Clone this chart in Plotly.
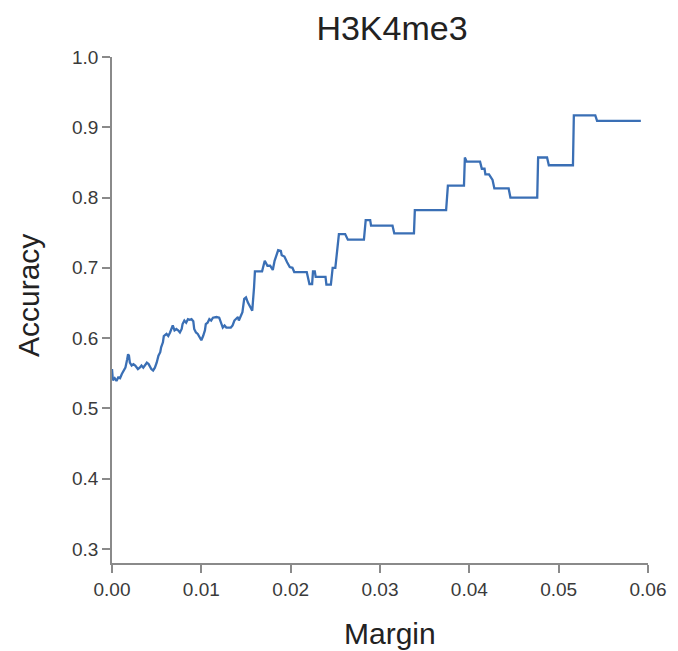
import plotly.graph_objects as go

# Accuracy as a function of the classification margin (H3K4me3)
margin = [
    0.0000, 0.0001, 0.0003, 0.0005, 0.0007, 0.0009, 0.0011, 0.0013, 0.0015, 0.0017,
    0.0018, 0.0019, 0.0020, 0.0022, 0.0024, 0.0026, 0.0028, 0.0029, 0.0031, 0.0033,
    0.0035, 0.0037, 0.0039, 0.0041, 0.0042, 0.0044, 0.0046, 0.0048, 0.0050, 0.0052,
    0.0054, 0.0055, 0.0057, 0.0058, 0.0061, 0.0063, 0.0065, 0.0067, 0.0068, 0.0070,
    0.0072, 0.0074, 0.0076, 0.0078, 0.0079, 0.0081, 0.0083, 0.0085, 0.0087, 0.0089,
    0.0091, 0.0092, 0.0094, 0.0096, 0.0098, 0.0100, 0.0102, 0.0104, 0.0105, 0.0107,
    0.0109, 0.0111, 0.0113, 0.0117, 0.0120, 0.0122, 0.0124, 0.0126, 0.0128, 0.0133,
    0.0135, 0.0137, 0.0139, 0.0141, 0.0142, 0.0144, 0.0146, 0.0148, 0.0150, 0.0152,
    0.0154, 0.0155, 0.0157, 0.0159, 0.0160, 0.0168, 0.0171, 0.0174, 0.0177, 0.0180,
    0.0182, 0.0186, 0.0189, 0.0190, 0.0193, 0.0196, 0.0199, 0.0202, 0.0204, 0.0218,
    0.0221, 0.0224, 0.0225, 0.0227, 0.0228, 0.0239, 0.0240, 0.0245, 0.0247, 0.0250,
    0.0254, 0.0261, 0.0264, 0.0282, 0.0284, 0.0289, 0.0290, 0.0314, 0.0316, 0.0338,
    0.0339, 0.0374, 0.0376, 0.0394, 0.0395, 0.0397, 0.0412, 0.0414, 0.0417, 0.0418,
    0.0422, 0.0426, 0.0428, 0.0444, 0.0446, 0.0476, 0.0477, 0.0487, 0.0489, 0.0516,
    0.0517, 0.0541, 0.0543, 0.0592,
]
accuracy = [
    0.556, 0.540, 0.543, 0.539, 0.544, 0.543, 0.549, 0.553, 0.558, 0.570,
    0.577, 0.575, 0.565, 0.561, 0.563, 0.561, 0.558, 0.556, 0.558, 0.561,
    0.558, 0.561, 0.565, 0.563, 0.561, 0.556, 0.554, 0.558, 0.565, 0.575,
    0.580, 0.587, 0.594, 0.603, 0.606, 0.603, 0.608, 0.615, 0.618, 0.611,
    0.613, 0.611, 0.608, 0.613, 0.620, 0.625, 0.622, 0.627, 0.626, 0.627,
    0.624, 0.613, 0.608, 0.606, 0.601, 0.597, 0.603, 0.611, 0.620, 0.622,
    0.627, 0.625, 0.629, 0.630, 0.629, 0.622, 0.615, 0.618, 0.615, 0.615,
    0.618, 0.625, 0.627, 0.630, 0.625, 0.632, 0.637, 0.656, 0.658, 0.651,
    0.646, 0.644, 0.639, 0.672, 0.695, 0.695, 0.710, 0.703, 0.703, 0.697,
    0.710, 0.725, 0.724, 0.718, 0.716, 0.708, 0.701, 0.700, 0.694, 0.694,
    0.677, 0.677, 0.695, 0.695, 0.687, 0.687, 0.676, 0.676, 0.700, 0.700,
    0.748, 0.748, 0.740, 0.740, 0.768, 0.768, 0.760, 0.760, 0.749, 0.749,
    0.782, 0.782, 0.817, 0.817, 0.857, 0.851, 0.851, 0.841, 0.841, 0.833,
    0.833, 0.825, 0.813, 0.813, 0.800, 0.800, 0.857, 0.857, 0.846, 0.846,
    0.917, 0.917, 0.909, 0.909,
]

x_ticks = [0.00, 0.01, 0.02, 0.03, 0.04, 0.05, 0.06]
x_tick_text = ["0.00", "0.01", "0.02", "0.03", "0.04", "0.05", "0.06"]
y_ticks = [0.3, 0.4, 0.5, 0.6, 0.7, 0.8, 0.9, 1.0]
y_tick_text = ["0.3", "0.4", "0.5", "0.6", "0.7", "0.8", "0.9", "1.0"]

FONT = "Liberation Sans, Arial, sans-serif"
AXIS_GRAY = "#8a8a8a"
TEXT = "#3a3a3a"

fig = go.Figure()
fig.add_trace(go.Scatter(
    x=margin, y=accuracy, mode="lines",
    line=dict(color="#3a6fb5", width=2.3),
    showlegend=False, hoverinfo="x+y",
))

axis_common = dict(
    showgrid=False, zeroline=False, showline=True,
    linecolor=AXIS_GRAY, linewidth=1.5,
    ticks="outside", ticklen=8, tickwidth=1.5, tickcolor=AXIS_GRAY,
    tickfont=dict(family=FONT, size=19, color=TEXT),
)

fig.update_layout(
    width=678, height=651,
    margin=dict(l=112, r=26, t=57, b=88),
    paper_bgcolor="white", plot_bgcolor="white",
    title=dict(
        text="H3K4me3", x=392 / 678, xanchor="center",
        y=1 - 28 / 651, yanchor="middle",
        font=dict(family=FONT, size=34, color="#222222"),
    ),
    xaxis=dict(
        range=[0, 0.06], tickvals=x_ticks, ticktext=x_tick_text, **axis_common
    ),
    yaxis=dict(
        range=[0.28, 1.0], tickvals=y_ticks, ticktext=y_tick_text, **axis_common
    ),
    annotations=[
        dict(text="Margin", xref="paper", yref="paper", x=0.5, y=0,
             xshift=10, yshift=-70, xanchor="center", yanchor="middle",
             showarrow=False,
             font=dict(family=FONT, size=30, color="#222222")),
        dict(text="Accuracy", xref="paper", yref="paper", x=0, y=0.5,
             xshift=-84, yshift=14, textangle=-90, xanchor="center",
             yanchor="middle", showarrow=False,
             font=dict(family=FONT, size=30, color="#222222")),
    ],
)

fig.write_html("out.html")
